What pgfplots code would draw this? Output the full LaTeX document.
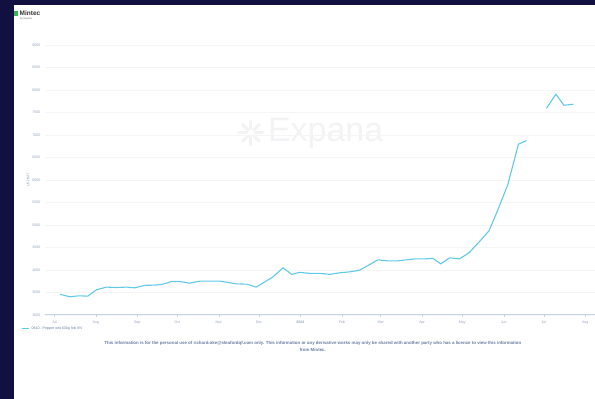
\documentclass[border=0pt]{standalone}
\usepackage{pgfplots}
\pgfplotsset{compat=1.18}
\usepackage{fontspec}
\setmainfont{Liberation Sans}
\definecolor{navy}{RGB}{17,16,64}
\definecolor{linec}{RGB}{98,202,232}
\definecolor{ticktxt}{RGB}{150,165,188}
\definecolor{disc}{RGB}{105,125,160}
\definecolor{axisc}{RGB}{200,212,228}
\definecolor{wm}{RGB}{243,243,245}
\definecolor{mgreen}{RGB}{60,180,80}
\begin{document}
\begin{tikzpicture}[x=1pt,y=1pt]
\fill[navy] (0,0) rectangle (595,399);
\fill[white] (14,0) rectangle (595,394);
% logo
\fill[mgreen] (14.5,383) rectangle (18.5,388);
\node[anchor=west,inner sep=0pt,font=\fontsize{6.5}{7}\selectfont\bfseries,text=black!80] at (19.5,385.5) {Mintec};
\node[anchor=west,inner sep=0pt,font=\fontsize{2.5}{3}\selectfont,text=black!60] at (20,380) {by Expana};
% watermark
\begin{scope}[shift={(251,266)},wm,line width=3pt,line cap=round]
\foreach \a in {0,45,...,315} {\draw (\a:4) -- (\a:12);}
\end{scope}
\node[anchor=west,inner sep=0pt,font=\fontsize{34}{36}\selectfont,text=wm] at (268,266) {Expana};
\pgfplotstableread{
d v
4.3 3456
11.7 3400
18 3422
25 3416
31.5 3556
39 3616
46.5 3607
54 3616
60 3600
68 3656
75 3660
81.4 3682
87.7 3740
94 3740
101 3704
109 3749
116 3749
124 3749
130 3718
136 3689
144 3682
151 3616
158.6 3756
163 3833
171 4044
177.5 3900
183.5 3944
191 3922
198.4 3922
206 3900
213 3933
221 3956
228 3989
234 4089
242 4222
249 4200
257 4200
263 4222
270 4244
277 4244
283 4256
289 4133
295.5 4267
303 4244
310 4378
317 4600
325 4867
331 5289
339 5889
347 6793
353 6873
360 nan
368 7593
375 7904
381 7660
388 7682
}\pricedata
\begin{axis}[
  at={(45pt,84pt)}, anchor=south west, scale only axis,
  width=550pt, height=270pt,
  xmin=-7, xmax=404, ymin=3000, ymax=9000,
  ytick={3000,3500,...,9000},
  xtick={0,31,62,92,123,153,184,215,244,275,305,336,366,397},
  xticklabels={Jul,Aug,Sep,Oct,Nov,Dec,\textbf{2024},Feb,Mar,Apr,May,Jun,Jul,Aug},
  axis x line*=bottom, axis y line*=left,
  x axis line style={draw=axisc,line width=0.7pt},
  y axis line style={draw=none},
  ytick style={draw=none},
  xtick style={draw=axisc,line width=0.4pt},
  xtick align=outside, major tick length=2pt,
  ymajorgrids, grid style={draw=black!4,line width=0.5pt},
  tick label style={font=\fontsize{3.6}{4}\selectfont,text=ticktxt},
  /pgf/number format/assume math mode=true,
  /pgf/number format/1000 sep={},
  yticklabel style={xshift=-1pt},
  xticklabel style={yshift=-1pt},
  unbounded coords=jump,
  legend style={at={(-0.043,-0.052)},anchor=west,draw=none,fill=none,
    font=\fontsize{3.6}{4}\selectfont\color{disc},inner sep=0pt},
  legend image code/.code={\draw[#1,line width=1pt] (0pt,0pt) -- (7pt,0pt);},
]
\addplot[linec,line width=1.1pt,no marks] table[x=d,y=v]{\pricedata};
\addlegendentry{0810 - Pepper wht 630g fob VN}
\end{axis}
\node[rotate=90,font=\fontsize{3.6}{4}\selectfont,text=ticktxt] at (28,219) {USD/MT};
\node[align=center,font=\fontsize{4.4}{6.5}\selectfont\bfseries,text=disc] at (313,52.5)
{This information is for the personal use of richard.oke@sleafordqf.com only. This information or any derivative works may only be shared with another party who has a licence to view this information\\from Mintec.};
\end{tikzpicture}
\end{document}
